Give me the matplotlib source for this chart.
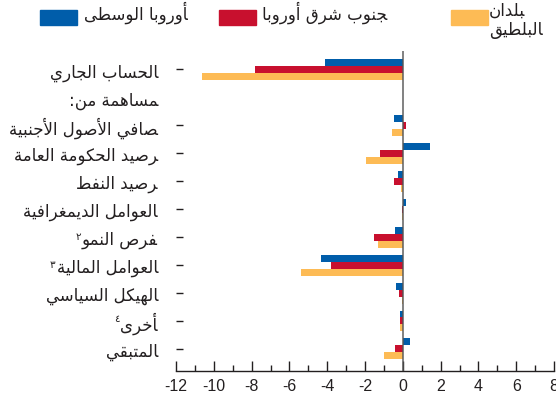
import matplotlib
matplotlib.use('Agg')
import matplotlib.pyplot as plt
from matplotlib.patches import Rectangle
import numpy as np

# data (percent)
categories = ['الحساب الجاري', 'مساهمة من:', 'صافي الأصول الأجنبية', 'رصيد الحكومة العامة',
              'رصيد النفط', 'العوامل الديمغرافية', 'فرص النمو', 'العوامل المالية',
              'الهيكل السياسي', 'أخرى', 'المتبقي']
notes = ['', '', '', '', '', '', '٢', '٣', '', '٤', '']
series_names = ['أوروبا الوسطى', 'جنوب شرق أوروبا', 'بلدان\nالبلطيق']
central = [-4.1, np.nan, -0.48, 1.43, -0.27, 0.17, -0.42, -4.35, -0.37, -0.16, 0.37]
southeast = [-7.8, np.nan, 0.16, -1.22, -0.48, -0.04, -1.54, -3.82, -0.21, -0.16, -0.42]
baltic = [-10.6, np.nan, -0.58, -1.96, -0.08, -0.04, -1.33, -5.36, -0.05, -0.16, -1.01]
xticks = [-12, -10, -8, -6, -4, -2, 0, 2, 4, 6, 8]
colors = ['#005DAA', '#C8102E', '#FDBB55']
txt_color = '#231F20'

# --- tiny Arabic shaper (matplotlib has no bidi / joining) ---
dual = 'ئبتثجحخسشصضطظعغفقكلمنهي'
starts = {'آ': 0xFE81, 'أ': 0xFE83, 'ؤ': 0xFE85, 'إ': 0xFE87, 'ئ': 0xFE89, 'ا': 0xFE8D,
          'ب': 0xFE8F, 'ة': 0xFE93, 'ت': 0xFE95, 'ث': 0xFE99, 'ج': 0xFE9D, 'ح': 0xFEA1,
          'خ': 0xFEA5, 'د': 0xFEA9, 'ذ': 0xFEAB, 'ر': 0xFEAD, 'ز': 0xFEAF, 'س': 0xFEB1,
          'ش': 0xFEB5, 'ص': 0xFEB9, 'ض': 0xFEBD, 'ط': 0xFEC1, 'ظ': 0xFEC5, 'ع': 0xFEC9,
          'غ': 0xFECD, 'ف': 0xFED1, 'ق': 0xFED5, 'ك': 0xFED9, 'ل': 0xFEDD, 'م': 0xFEE1,
          'ن': 0xFEE5, 'ه': 0xFEE9, 'و': 0xFEED, 'ى': 0xFEEF, 'ي': 0xFEF1}
lam_alef = {'آ': 0xFEF5, 'أ': 0xFEF7, 'إ': 0xFEF9, 'ا': 0xFEFB}


def shape_line(s):
    out = []
    i = 0
    n = len(s)
    while i < n:
        c = s[i]
        prev = s[i - 1] if i > 0 else ''
        jp = prev in dual and c in starts
        if c == 'ل' and i + 1 < n and s[i + 1] in lam_alef:
            out.append(chr(lam_alef[s[i + 1]] + (1 if jp else 0)))
            i += 2
            continue
        if c not in starts:
            out.append(c)
            i += 1
            continue
        nxt = s[i + 1] if i + 1 < n else ''
        jn = c in dual and nxt in starts
        if jp and jn:
            k = 3
        elif jn:
            k = 2
        elif jp:
            k = 1
        else:
            k = 0
        out.append(chr(starts[c] + k))
        i += 1
    return ''.join(out)[::-1]


def ar(s):
    return '\n'.join(shape_line(line) for line in s.split('\n'))


plt.rcParams['font.family'] = 'DejaVu Sans'
plt.rcParams['axes.unicode_minus'] = False

fig = plt.figure(figsize=(5.56, 4.02), dpi=100)
W, H = 556.0, 402.0
ax = fig.add_axes([176 / W, 1 - 372.3 / H, (554 - 176) / W, (372.3 - 52) / H])

y = np.arange(len(categories))
h = 0.25
for vals, off, col in zip([central, southeast, baltic], [-h, 0, h], colors):
    ax.barh(y + off, vals, height=h, color=col, zorder=2)
ax.axvline(0, color='#555555', lw=1.3, alpha=0.8, zorder=3)

ax.set_xlim(-12, 8)
ax.set_ylim(10.8, -0.66)
ax.set_xticks(xticks)
ax.set_xticks(np.arange(-11, 8, 2), minor=True)
ax.xaxis.set_tick_params(which='major', direction='in', length=7, width=1, color=txt_color, pad=5)
ax.xaxis.set_tick_params(which='minor', direction='in', length=4, width=1, color=txt_color)
for lab in ax.get_xticklabels():
    lab.set_fontfamily('Liberation Sans')
    lab.set_fontsize(11.5)
    lab.set_color(txt_color)

ax.set_yticks(y)
ax.set_yticklabels([ar(c) for c in categories], fontsize=12, color=txt_color)
ax.yaxis.set_tick_params(direction='in', length=5, width=1, color=txt_color, pad=13)
ax.yaxis.get_major_ticks()[1].tick1line.set_visible(False)

for side in ['top', 'right', 'left']:
    ax.spines[side].set_visible(False)
ax.spines['bottom'].set_color(txt_color)
ax.spines['bottom'].set_linewidth(1)

# superscript note numbers at the end (left side) of the labels
fig.canvas.draw()
rend = fig.canvas.get_renderer()
for lab, note in zip(ax.get_yticklabels(), notes):
    if note:
        bb = lab.get_window_extent(rend)
        fig.text(bb.x0 - 1, bb.y1 - 1, note, fontsize=7.5, color=txt_color,
                 ha='right', va='top', transform=None)

# legend drawn by hand, right to left like the original
leg = [(40, 84), (219, 262), (451, 489)]
for (px, tx), name, col in zip(leg, series_names, colors):
    fig.add_artist(Rectangle((px / W, 1 - 25.5 / H), 37 / W, 15 / H,
                             transform=fig.transFigure, color=col))
    fig.text(tx / W, 1 - 2 / H, ar(name), fontsize=12, color=txt_color,
             ha='left', va='top', linespacing=1.05)

fig.savefig('out.png', dpi=100)
